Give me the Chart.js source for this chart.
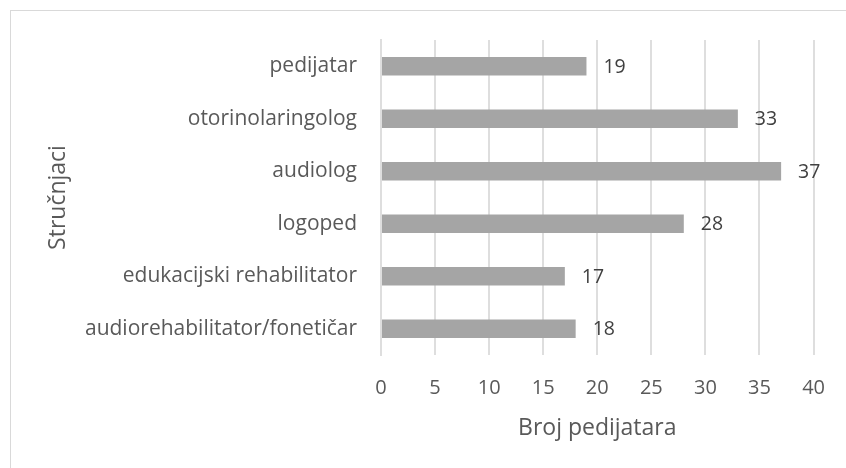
<!DOCTYPE html>
<html>
<head>
<meta charset="utf-8">
<style>
  html, body { margin: 0; padding: 0; background: #fff; overflow: hidden; }
  #wrap { width: 846px; height: 468px; }
</style>
<script src="https://cdn.jsdelivr.net/npm/chart.js"></script>
</head>
<body>
<div id="wrap"><canvas id="chart" width="846" height="468"></canvas></div>
<script>
const categories = ['pedijatar', 'otorinolaringolog', 'audiolog', 'logoped', 'edukacijski rehabilitator', 'audiorehabilitator/fonetičar'];
const counts = [19, 33, 37, 28, 17, 18];
const xTicks = [0, 5, 10, 15, 20, 25, 30, 35, 40];

const fontFamily = '"Open Sans", Lato, sans-serif';

// value labels to the right of each bar
const valueLabels = {
    id: 'valueLabels',
    afterDatasetsDraw(chart) {
        const ctx = chart.ctx;
        const meta = chart.getDatasetMeta(0);
        ctx.save();
        ctx.font = '19.5px ' + fontFamily;
        ctx.fillStyle = '#404040';
        ctx.textAlign = 'left';
        ctx.textBaseline = 'middle';
        meta.data.forEach((bar, i) => {
            ctx.fillText(String(counts[i]), bar.x + 17, bar.y + 1);
        });
        ctx.restore();
    }
};

// light frame like the spreadsheet chart area
const frame = {
    id: 'frame',
    beforeDraw(chart) {
        const ctx = chart.ctx;
        ctx.save();
        ctx.strokeStyle = '#d9d9d9';
        ctx.lineWidth = 1;
        ctx.strokeRect(10.5, 10.5, 850, 470);
        ctx.restore();
    }
};

new Chart(document.getElementById('chart').getContext('2d'), {
    type: 'bar',
    data: {
        labels: categories,
        datasets: [{
            data: counts,
            backgroundColor: '#a5a5a5',
            barPercentage: 0.35,
            categoryPercentage: 1
        }]
    },
    options: {
        indexAxis: 'y',
        responsive: false,
        animation: false,
        layout: { padding: { top: 40, right: 30, left: 0, bottom: 0 } },
        plugins: {
            legend: { display: false },
            tooltip: { enabled: false }
        },
        scales: {
            x: {
                min: 0,
                max: 40,
                afterBuildTicks(scale) {
                    scale.ticks = xTicks.map(v => ({ value: v }));
                },
                afterFit(scale) { scale.height = 113; },
                grid: { color: '#dedede', lineWidth: 2, drawTicks: false },
                border: { display: false },
                ticks: {
                    padding: 21,
                    color: '#595959',
                    font: { family: fontFamily, size: 20 }
                },
                title: {
                    display: true,
                    text: 'Broj pedijatara',
                    color: '#595959',
                    font: { family: fontFamily, size: 23 },
                    padding: { top: 0, bottom: 26 }
                }
            },
            y: {
                afterFit(scale) { scale.width = 381; },
                grid: { display: false, drawTicks: false },
                border: { display: true, color: '#dedede', width: 2 },
                ticks: {
                    padding: 24,
                    color: '#595959',
                    font: { family: fontFamily, size: 21 }
                },
                title: {
                    display: true,
                    text: 'Stručnjaci',
                    color: '#595959',
                    font: { family: fontFamily, size: 23 },
                    padding: { top: 45, bottom: 0 }
                }
            }
        }
    },
    plugins: [frame, valueLabels]
});
</script>
</body>
</html>
